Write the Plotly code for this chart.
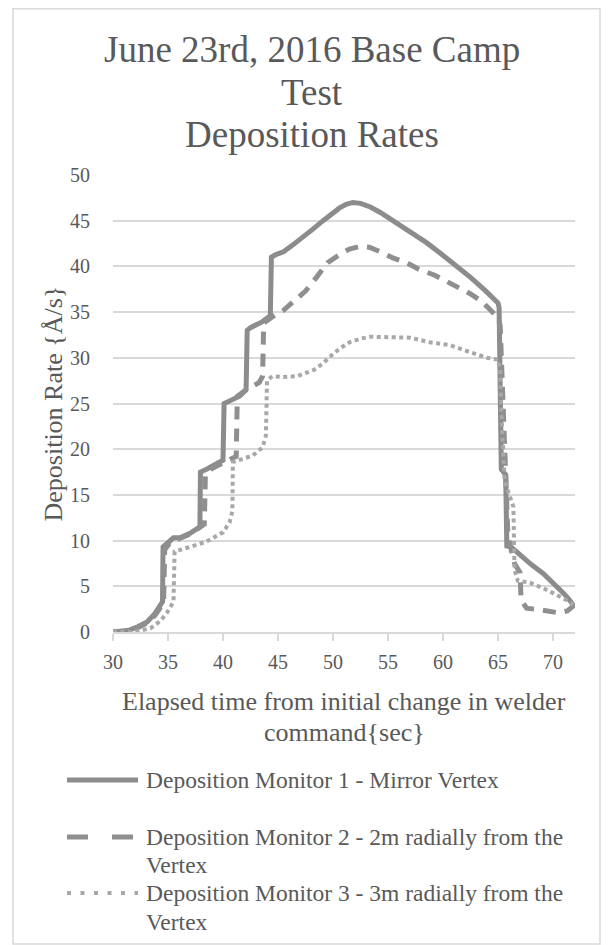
import plotly.graph_objects as go

# ---------------- data ----------------
t1 = [30, 31.5, 32.3, 33.1, 33.8, 34.5, 34.55, 35.0, 35.5, 36.1, 37.0, 37.9, 37.95,
      38.5, 39.2, 40.0, 40.1, 40.5, 41.5, 42.1, 42.2, 42.5, 43.5, 44.3, 44.4, 44.8,
      45.5, 46.3, 47.3, 48.2, 49.1, 50.0, 50.6, 51.2, 51.8, 52.5, 53.4, 54.3, 55.2,
      56.2, 57.3, 58.5, 59.7, 61.0, 62.5, 63.8, 65.0, 65.1, 65.2, 65.3, 65.7, 65.8,
      66.2, 67.0, 68.0, 69.1, 70.2, 71.0, 71.5, 72.0]
dm1 = [0, 0.2, 0.6, 1.1, 2.0, 3.3, 9.3, 9.8, 10.3, 10.3, 10.8, 11.5, 17.5,
       17.8, 18.2, 18.8, 25.0, 25.2, 25.8, 26.5, 33.0, 33.3, 33.9, 34.6, 41.0, 41.3,
       41.6, 42.3, 43.2, 44.1, 45.0, 45.9, 46.4, 46.8, 47.0, 46.9, 46.5, 45.9, 45.2,
       44.5, 43.6, 42.6, 41.5, 40.3, 38.8, 37.4, 36.0, 35.5, 27.2, 17.8, 17.2, 9.4,
       9.3, 8.4, 7.4, 6.4, 5.2, 4.2, 3.5, 2.7]

t2 = [30, 31.5, 32.3, 33.1, 33.8, 34.6, 34.7, 35.2, 36.0, 37.0, 38.3, 38.4, 39.0,
      40.0, 41.2, 41.3, 42.0, 43.3, 43.6, 43.7, 44.5, 45.5, 46.7, 47.5, 48.5, 49.5,
      50.6, 51.5, 52.5, 53.3, 54.3, 55.5, 56.7, 57.8, 59.3, 60.3, 61.5, 62.5, 63.5,
      64.5, 65.0, 65.2, 65.4, 65.6, 65.9, 66.5, 67.0, 67.1, 67.6, 69.0, 70.5, 71.3, 72.0]
dm2 = [0, 0.1, 0.5, 1.0, 1.8, 3.2, 9.0, 9.8, 10.2, 10.7, 11.8, 17.3, 17.9,
       18.5, 19.2, 25.8, 26.4, 27.3, 28.0, 33.8, 34.5, 35.2, 36.4, 37.3, 38.8, 40.4,
       41.3, 41.9, 42.2, 42.1, 41.6, 40.9, 40.4, 39.7, 39.0, 38.4, 37.6, 37.0, 36.2,
       35.0, 34.4, 33.5, 26.0, 18.0, 10.5, 7.5, 6.5, 3.5, 2.6, 2.4, 2.1, 2.3, 3.0]

t3 = [30, 31.8, 33.4, 34.3, 34.9, 35.5, 35.6, 36.5, 37.5, 38.5, 39.5, 40.0, 40.6,
      40.85, 40.9, 41.8, 42.7, 43.6, 43.9, 44.0, 44.5, 45.3, 46.8, 48.3, 49.1, 49.7,
      50.6, 51.5, 52.5, 53.4, 55.2, 57.0, 58.8, 60.6, 62.5, 64.0, 65.0, 65.2, 65.3,
      65.5, 65.6, 66.4, 66.45, 66.5, 66.8, 67.9, 69.1, 70.0, 70.9, 71.5, 72.0]
dm3 = [0, 0.0, 0.4, 1.2, 2.1, 3.3, 8.8, 9.1, 9.5, 9.9, 10.5, 10.9, 12.0,
       13.2, 18.6, 19.0, 19.3, 20.2, 21.5, 27.5, 28.0, 27.9, 28.0, 28.7, 29.4, 30.1,
       31.0, 31.7, 32.1, 32.3, 32.3, 32.2, 31.7, 31.4, 30.6, 30.0, 29.8, 28.7, 24.3,
       17.4, 16.5, 13.7, 9.7, 6.8, 5.6, 5.4, 4.8, 4.3, 3.7, 3.3, 2.8]

series_names = ["Deposition Monitor 1 - Mirror Vertex",
                "Deposition Monitor 2 - 2m radially from the<br>Vertex",
                "Deposition Monitor 3 - 3m radially from the<br>Vertex"]
x_ticks = [30, 35, 40, 45, 50, 55, 60, 65, 70]
y_ticks = [0, 5, 10, 15, 20, 25, 30, 35, 40, 45, 50]

title_lines = ["June 23rd, 2016 Base Camp", "Test", "Deposition Rates"]
x_title_lines = ["Elapsed time from initial change in welder", "command{sec}"]
y_title = "Deposition Rate {Å/s}"

# ---------------- styling ----------------
# The page body has an 8px default margin, so the figure is offset by (8, 8)
OFF = 8
W, H = 610, 945
PW, PH = 462, 457
L, T = 113 - OFF, 175 - OFF
R, B = W - L - PW, H - T - PH
FONT = "'Liberation Serif', 'Times New Roman', 'DejaVu Serif', serif"
TXT = "#595959"
GRID = "#d9d9d9"
C1, C2, C3 = "#8c8c8c", "#8f8f8f", "#a8a8a8"


def px(xp):
    """page x pixel -> paper x"""
    return (xp - OFF - L) / PW


def py(yp):
    """page y pixel -> paper y"""
    return (T + PH - (yp - OFF)) / PH


fig = go.Figure()
fig.add_trace(go.Scatter(x=t1, y=dm1, mode="lines", name=series_names[0],
                         line=dict(color=C1, width=5), showlegend=False))
fig.add_trace(go.Scatter(x=t2, y=dm2, mode="lines", name=series_names[1],
                         line=dict(color=C2, width=5, dash="13px,9px"), showlegend=False))
fig.add_trace(go.Scatter(x=t3, y=dm3, mode="lines", name=series_names[2],
                         line=dict(color=C3, width=4, dash="4px,3.5px"), showlegend=False))

annotations = []
for txt, yc in zip(title_lines, [50, 92, 134]):
    annotations.append(dict(text=txt, x=px(312), y=py(yc), xref="paper", yref="paper",
                            xanchor="center", yanchor="middle", showarrow=False,
                            font=dict(family=FONT, size=37, color=TXT)))
for txt, yc in zip(x_title_lines, [701, 732]):
    annotations.append(dict(text=txt, x=px(344), y=py(yc), xref="paper", yref="paper",
                            xanchor="center", yanchor="middle", showarrow=False,
                            font=dict(family=FONT, size=26, color=TXT)))
annotations.append(dict(text=y_title, x=px(53), y=py(403.5), xref="paper", yref="paper",
                        xanchor="center", yanchor="middle", showarrow=False, textangle=-90,
                        font=dict(family=FONT, size=26, color=TXT)))

leg_rows = [(780, [series_names[0]]),
            (837, ["Deposition Monitor 2 - 2m radially from the", "Vertex"]),
            (893, ["Deposition Monitor 3 - 3m radially from the", "Vertex"])]
leg_styles = [dict(color=C1, width=5),
              dict(color=C2, width=5, dash="21px,24px"),
              dict(color=C3, width=4, dash="4px,9.5px")]
shapes = []
for (yc, lines), st in zip(leg_rows, leg_styles):
    shapes.append(dict(type="line", xref="paper", yref="paper",
                       x0=px(67), x1=px(138), y0=py(yc), y1=py(yc), line=st))
    for k, ln in enumerate(lines):
        annotations.append(dict(text=ln, x=px(144), y=py(yc + 28.5 * k), xref="paper",
                                yref="paper", xanchor="left", yanchor="middle",
                                showarrow=False,
                                font=dict(family=FONT, size=23.5, color=TXT)))

# chart border (top edge pinned to the top of the figure)
shapes.append(dict(type="rect", xref="paper", yref="paper", x0=px(13), x1=px(600),
                   y0=py(944), y1=py(OFF + 0.8), line=dict(color=GRID, width=1.5),
                   fillcolor="rgba(0,0,0,0)", layer="below"))

fig.update_layout(
    width=W, height=H,
    margin=dict(l=L, r=R, t=T, b=B, pad=0),
    paper_bgcolor="white", plot_bgcolor="white",
    font=dict(family=FONT, color=TXT),
    showlegend=False,
    annotations=annotations,
    shapes=shapes,
    xaxis=dict(range=[30, 72], tickvals=x_ticks, showgrid=False, zeroline=False,
               showline=True, linecolor=GRID, linewidth=1.5,
               ticks="outside", ticklen=7, tickwidth=1.5, tickcolor=GRID,
               tickfont=dict(family=FONT, size=20, color=TXT), ticklabelstandoff=4),
    yaxis=dict(range=[0, 50], tickvals=y_ticks, showgrid=True, gridcolor=GRID,
               gridwidth=1.5, zeroline=False, showline=False, ticks="",
               tickfont=dict(family=FONT, size=20, color=TXT), ticklabelstandoff=22),
)

fig.write_html("out.html")
